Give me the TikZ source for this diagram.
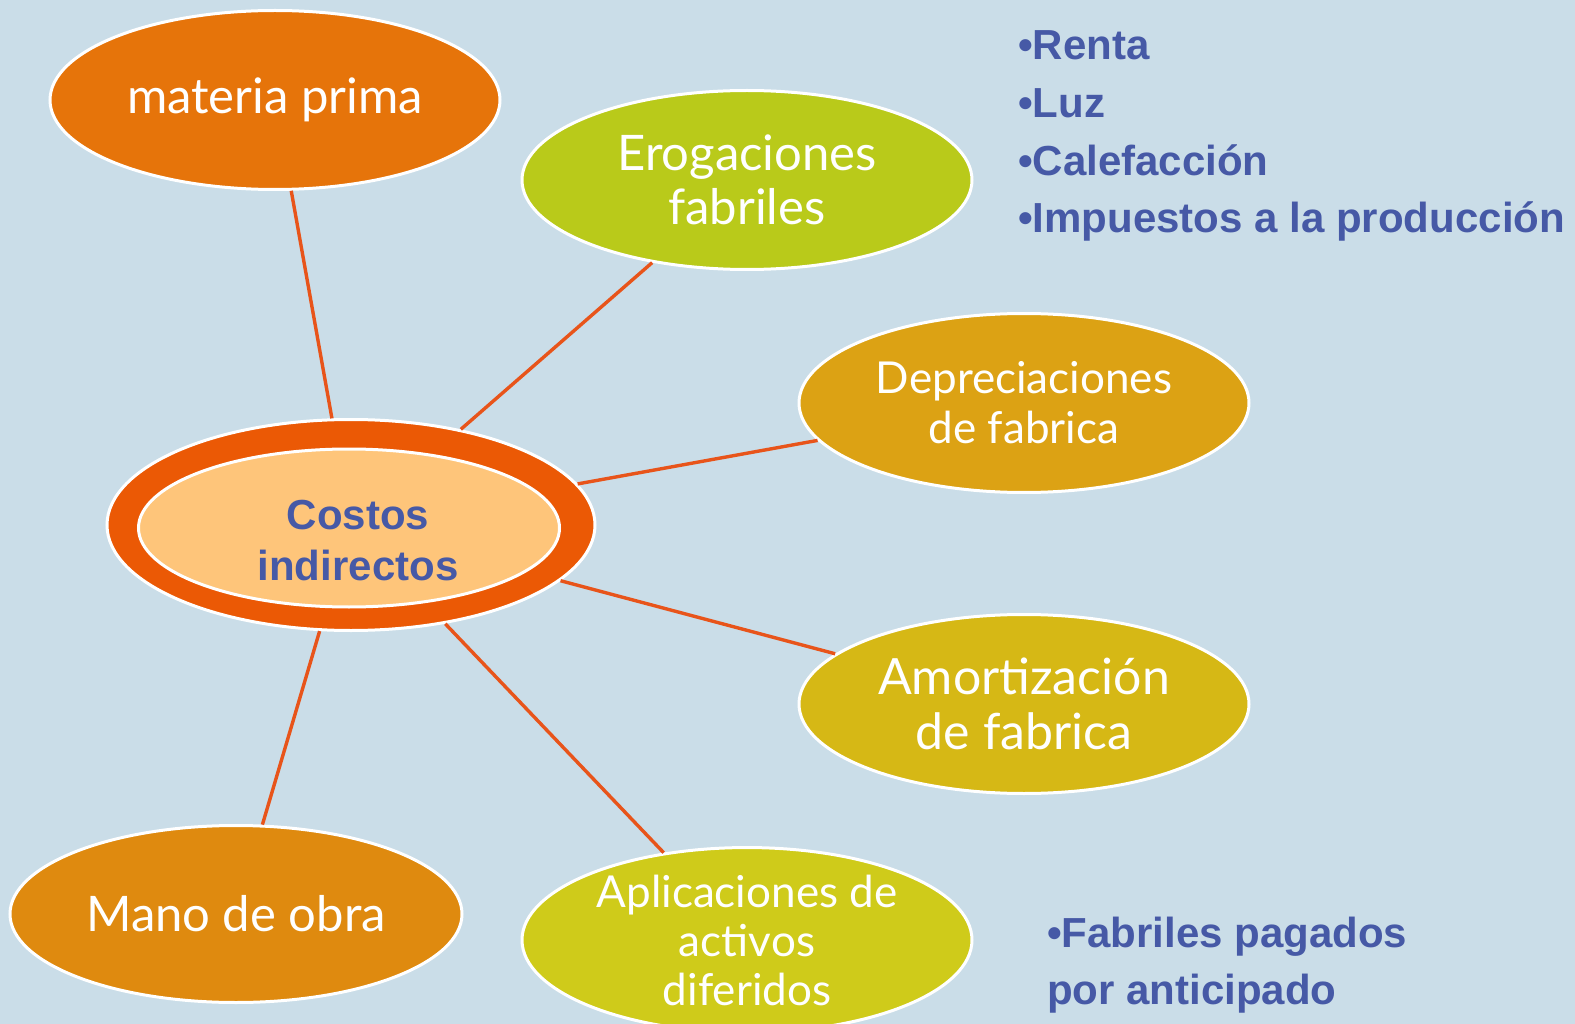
\documentclass[tikz,border=0pt]{standalone}
\usepackage{fontspec}
\usetikzlibrary{shapes.geometric}
\newfontfamily\ellfont{Lato}
\newfontfamily\bluefont{Liberation Sans}
\definecolor{bg}{HTML}{CADDE8}
\definecolor{cmat}{HTML}{E6740A}
\definecolor{cero}{HTML}{B9CA1A}
\definecolor{cdep}{HTML}{DCA214}
\definecolor{camo}{HTML}{D6B815}
\definecolor{cmano}{HTML}{DF8A0F}
\definecolor{capl}{HTML}{CFCB1A}
\definecolor{couter}{HTML}{EB5905}
\definecolor{cinner}{HTML}{FEC57A}
\definecolor{cline}{HTML}{E8541A}
\definecolor{cblue}{HTML}{4659A6}
\begin{document}
\begin{tikzpicture}[x=1pt,y=-1pt,
  ell/.style={ellipse, draw=white, line width=3pt, minimum width=450pt, minimum height=179pt,
    inner sep=0pt, text=white, align=center, font=\ellfont\fontsize{49}{54}\selectfont},
  conn/.style={draw=cline, line width=3.4pt},
  bluetxt/.style={text=cblue, anchor=base west, inner sep=0pt, font=\bluefont\bfseries\fontsize{42}{50}\selectfont},
  ctrtxt/.style={text=cblue, anchor=base, inner sep=0pt, font=\bluefont\bfseries\fontsize{42}{50}\selectfont}]
\fill[bg] (0,0) rectangle (1575,1024);
\useasboundingbox (0,0) rectangle (1575,1024);

\node[ell, fill=cmat] (mat) at (275,100) {materia prima};
\node[ell, fill=cero] (ero) at (747,180) {Erogaciones\\fabriles};
\node[ell, fill=cdep, font=\ellfont\fontsize{44}{50}\selectfont] (dep) at (1024,403) {Depreciaciones\\de fabrica};
\node[ell, fill=camo, font=\ellfont\fontsize{50}{55}\selectfont] (amo) at (1024,704) {Amortización\\de fabrica};
\node[ell, fill=cmano, minimum width=452pt, minimum height=177pt] (mano) at (236,914) {Mano de obra};
\node[ell, fill=capl, font=\ellfont\fontsize{44}{49}\selectfont] (apl) at (747,940) {Aplicaciones de\\activos\\diferidos};

\node[ellipse, fill=couter, draw=white, line width=3pt, minimum width=488pt, minimum height=211pt, inner sep=0pt] (ctr) at (351,525) {};
\node[ellipse, fill=cinner, draw=white, line width=3pt, minimum width=421pt, minimum height=158pt, inner sep=0pt] (inn) at (349,528) {};
\node[ctrtxt] (c1) at (358,529) {Costos};
\node[ctrtxt] (c2) at (358,580) {indirectos};

\draw[conn] (ctr) -- (mat);
\draw[conn] (ctr) -- (ero);
\draw[conn] (ctr) -- (dep);
\draw[conn] (ctr) -- (amo);
\draw[conn] (ctr) -- (apl);
\draw[conn] (ctr) -- (mano);

\node[bluetxt] (l1) at (1018,60) {•Renta};
\node[bluetxt] (l2) at (1018,118) {•Luz};
\node[bluetxt] (l3) at (1018,176) {•Calefacción};
\node[bluetxt] (l4) at (1018,233) {•Impuestos a la producción};
\node[bluetxt] (f1) at (1047,947) {•Fabriles pagados};
\node[bluetxt] (f2) at (1047,1004) {por anticipado};
\end{tikzpicture}
\end{document}
